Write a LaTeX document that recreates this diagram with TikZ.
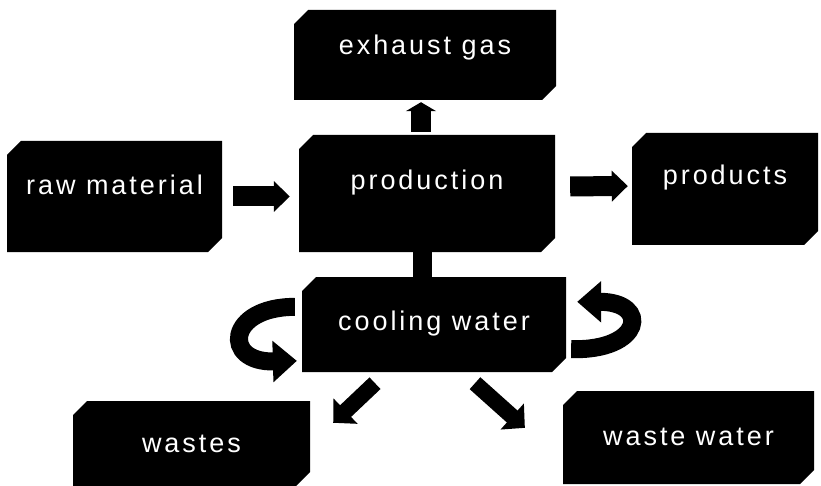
\documentclass[tikz,border=0pt]{standalone}
\usepackage{fontspec}
\setmainfont{Liberation Sans}[LetterSpace=11]
\usetikzlibrary{arrows.meta,shapes.misc,calc,positioning}
\tikzset{
  stage/.style={chamfered rectangle, chamfered rectangle corners={north west,south east},
    chamfered rectangle sep=7pt, fill=black, inner sep=0pt, text=white,
    font=\fontsize{27}{30}\selectfont},
  flow/.style={-{Triangle[width=30pt,length=16pt]}, line width=20pt},
  rise/.style={-{Triangle[width=30pt,length=9pt]}, line width=20pt},
  slant/.style={-{Triangle[width=34pt,length=17pt]}, line width=16pt},
  cyc/.style={-{Triangle[width=40pt,length=24pt]}, line width=18pt},
  stub/.style={line width=19pt}
}

\begin{document}
\begin{tikzpicture}[x=1pt,y=-1pt]
  \useasboundingbox (0,0) rectangle (821,486);
  % blocks
  \node[stage, minimum width=262pt, minimum height=90pt, text height=32pt, text depth=32pt] (exhaust) at (425,55) {exhaust gas};
  \node[stage, minimum width=215pt, minimum height=111pt, text height=41pt, text depth=44pt] (raw) at (114.5,196.5) {raw material};
  \node[stage, minimum width=256pt, minimum height=117pt, text height=42pt, text depth=49pt] (prod) at (427,193.5) {production};
  \node[stage, minimum width=186pt, minimum height=112pt, text height=39pt, text depth=47pt] (products) at (725,189) {products};
  \node[stage, minimum width=264pt, minimum height=95pt, text height=40pt, text depth=29pt] (cool) at (434,324.5) {cooling water};
  \node[stage, minimum width=237pt, minimum height=85pt, text height=38pt, text depth=21pt] (wastes) at (191.5,443.5) {wastes};
  \node[stage, minimum width=251pt, minimum height=93pt, text height=41pt, text depth=26pt] (wwater) at (688.5,437.5) {waste water};
  % arrows
  \draw[flow, shorten <=11pt, shorten >=9pt] (raw.east) -- (raw.east -| prod.west);
  \draw[flow, shorten <=15pt, shorten >=4pt] ($(prod.east)+(0,-7)$) -- ($(products.west)+(0,-3)$);
  \draw[rise] ($(prod.north)+(-6,-3)$) -- ($(exhaust.south)+(-4,2)$);
  \draw[stub] ($(prod.south)+(-5,0)$) -- ($(prod.south |- cool.north)+(-5,0)$);
  \draw[cyc] ($(cool.north west)+(-14,23)$) .. controls +(-68,0) and +(-75,2) .. ($(cool.north west)+(-12,77)$);
  \draw[cyc] ($(cool.south east)+(12,-16)$) .. controls +(72,2) and +(73,0) .. ($(cool.north east)+(11,25)$);
  \draw[slant] ($(cool.south)+(-59,11)$) -- ($(wastes.north east)+(23,22)$);
  \draw[slant] ($(cool.south)+(41,11)$) -- ($(wwater.north west)+(-45,30)$);
\end{tikzpicture}
\end{document}
